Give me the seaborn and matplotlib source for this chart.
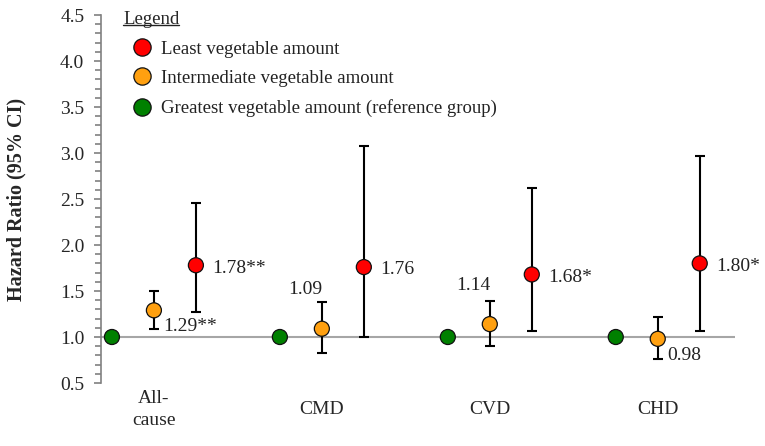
import numpy as np
import pandas as pd
import seaborn as sns
import matplotlib.pyplot as plt
from matplotlib.lines import Line2D

# dados
grupos = ["All-\ncause", "CMD", "CVD", "CHD"]
niveis = ["Least vegetable amount", "Intermediate vegetable amount",
          "Greatest vegetable amount (reference group)"]

hr_menor = [1.78, 1.76, 1.68, 1.80]
ic_inf_menor = [1.27, 1.00, 1.07, 1.07]
ic_sup_menor = [2.46, 3.08, 2.62, 2.97]
rotulos_menor = ["1.78**", "1.76", "1.68*", "1.80*"]

hr_medio = [1.29, 1.09, 1.14, 0.98]
ic_inf_medio = [1.09, 0.83, 0.90, 0.76]
ic_sup_medio = [1.50, 1.38, 1.39, 1.22]
rotulos_medio = ["1.29**", "1.09", "1.14", "0.98"]

hr_ref = [1.0, 1.0, 1.0, 1.0]

cores = {niveis[0]: "#FF0000", niveis[1]: "#FFA010", niveis[2]: "#008000"}
deslocamento = {niveis[0]: 0.25, niveis[1]: 0.0, niveis[2]: -0.25}

# monta a tabela
linhas = []
for i, g in enumerate(grupos):
    linhas.append([g, i, niveis[0], hr_menor[i], ic_inf_menor[i], ic_sup_menor[i], rotulos_menor[i]])
    linhas.append([g, i, niveis[1], hr_medio[i], ic_inf_medio[i], ic_sup_medio[i], rotulos_medio[i]])
    linhas.append([g, i, niveis[2], hr_ref[i], np.nan, np.nan, ""])
df = pd.DataFrame(linhas, columns=["grupo", "idx", "nivel", "hr", "lo", "hi", "rotulo"])
df["x"] = df["idx"] + df["nivel"].map(deslocamento)

sns.set_style("white")
plt.rcParams["font.family"] = ["Liberation Serif", "DejaVu Serif"]

fig = plt.figure(figsize=(7.65, 4.46), dpi=100)
ax = fig.add_axes([101 / 765, 1 - 383 / 446, 634 / 765, 368 / 446])

ax.axhline(1.0, color="#A6A6A6", lw=1.5, zorder=1)

# barras de erro
com_ic = df.dropna(subset=["lo"])
ax.errorbar(com_ic["x"], com_ic["hr"],
            yerr=[com_ic["hr"] - com_ic["lo"], com_ic["hi"] - com_ic["hr"]],
            fmt="none", ecolor="black", elinewidth=1.5, capsize=3.6, capthick=1.5, zorder=2)

sns.scatterplot(data=df, x="x", y="hr", hue="nivel", hue_order=niveis, palette=cores,
                s=117, edgecolor="#111111", linewidth=0.9, zorder=3, ax=ax)

# rotulos dos valores
for _, r in df.iterrows():
    if r["nivel"] == niveis[0]:
        ax.annotate(r["rotulo"], (r["x"], r["hr"]), xytext=(12, -2), textcoords="offset points",
                    ha="left", va="center", fontsize=14, color="#222222")
    elif r["nivel"] == niveis[1]:
        if r["grupo"] in ("CMD", "CVD"):
            ax.annotate(r["rotulo"], (r["x"], r["hr"]), xytext=(-12, 28), textcoords="offset points",
                        ha="center", va="center", fontsize=14, color="#222222")
        else:
            ax.annotate(r["rotulo"], (r["x"], r["hr"]), xytext=(7, -12), textcoords="offset points",
                        ha="left", va="center", fontsize=14, color="#222222")

ax.set_xlim(-0.315, 3.46)
ax.set_ylim(0.5, 4.5)
ax.set_yticks(np.arange(0.5, 4.51, 0.5))
ax.set_yticklabels([f"{v:.1f}" for v in np.arange(0.5, 4.51, 0.5)], fontsize=14)
ax.set_yticks(np.arange(0.5, 4.51, 0.1), minor=True)
ax.tick_params(axis="y", which="both", direction="out", left=True, color="#808080", width=1.2, pad=7)
ax.tick_params(axis="y", which="major", length=5)
ax.tick_params(axis="y", which="minor", length=4)

ax.set_xticks(range(len(grupos)))
ax.set_xticklabels(grupos, fontsize=14, linespacing=1.4)
ax.tick_params(axis="x", length=0, pad=19)
for t in ax.get_xticklabels():
    t.set_verticalalignment("center")

ax.set_xlabel("")
ax.set_ylabel("Hazard Ratio (95% CI)", fontsize=14.5, fontweight="bold")
ax.yaxis.set_label_coords(-0.117, 0.5)

for lado in ["top", "right", "bottom"]:
    ax.spines[lado].set_visible(False)
ax.spines["left"].set_color("#808080")
ax.spines["left"].set_linewidth(1.2)

handles, labels = ax.get_legend_handles_labels()
leg = ax.legend(handles, labels, title="Legend", loc="upper left",
                bbox_to_anchor=(123 / 765, 1 - 11 / 446), bbox_transform=fig.transFigure,
                frameon=False, fontsize=13.5, title_fontsize=13.5, alignment="left",
                borderpad=0, borderaxespad=0, handlelength=2.05, handletextpad=0.0,
                labelspacing=0.66, markerscale=1.15)
for t in leg.get_texts():
    t.set_color("#222222")

# sublinhado do titulo da legenda
fig.canvas.draw()
bb = leg.get_title().get_window_extent()
y_linha = bb.y0 + 3
fig.add_artist(Line2D([bb.x0 / 765, bb.x1 / 765], [y_linha / 446, y_linha / 446],
                      transform=fig.transFigure, color="#222222", lw=1.0))

plt.savefig("out.png", dpi=100)
